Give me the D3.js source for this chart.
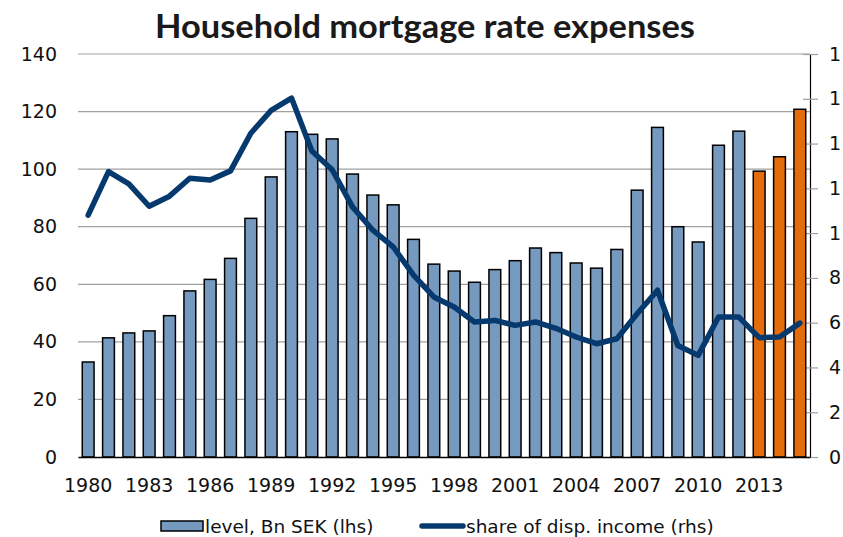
<!DOCTYPE html>
<html lang="en">
<head>
    <meta charset="UTF-8">
    <title>Household mortgage rate expenses</title>
    <script src="https://d3js.org/d3.v7.min.js"></script>
    <style>
        body { margin: 0; background: #fff; }
        svg { display: block; }
    </style>
</head>
<body>

<svg id="chart" width="843" height="537"></svg>
<script>

    // years on the category axis
    const years = d3.range(1980, 2016);

    // level, Bn SEK (left axis) - last three years are forecasts
    const level = [33.0, 41.4, 43.1, 43.8, 49.1, 57.7, 61.7, 69.0, 82.9, 97.3,
        113.0, 112.1, 110.5, 98.3, 91.0, 87.6, 75.6, 67.0, 64.6, 60.7,
        65.1, 68.2, 72.6, 71.0, 67.4, 65.6, 72.1, 92.7, 114.5, 80.0,
        74.7, 108.3, 113.2, 99.3, 104.3, 120.8];

    // share of disposable income, % (right axis)
    const share = [10.8, 12.75, 12.2, 11.2, 11.65, 12.45, 12.37, 12.78, 14.46, 15.48,
        16.03, 13.67, 12.83, 11.17, 10.13, 9.39, 8.12, 7.15, 6.70, 6.03,
        6.10, 5.88, 6.03, 5.75, 5.36, 5.06, 5.28, 6.40, 7.45, 4.98,
        4.54, 6.25, 6.25, 5.33, 5.36, 5.98];

    const forecastYears = [2013, 2014, 2015];
    const xTickYears = years.filter(y => (y - 1980) % 3 === 0);
    const leftTicks = [0, 20, 40, 60, 80, 100, 120, 140];
    const rightTicks = [0, 2, 4, 6, 8, 10, 12, 14, 16, 18];

    const titleText = "Household mortgage rate expenses";
    const legendLabels = ["level, Bn SEK (lhs)", "share of disp. income (rhs)"];

    const barColor = "#7699c0";
    const forecastColor = "#e46c0a";
    const lineColor = "#063a6e";
    const axisFont = "'DejaVu Sans', Verdana, sans-serif";

    function draw() {
        const svg = d3.select("#chart");
        const plotLeft = 78, plotRight = 810, plotTop = 54, plotBottom = 457;

        const x = d3.scaleBand()
            .domain(years)
            .range([plotLeft, plotRight])
            .paddingInner(0.42)
            .paddingOuter(0.21);

        const yL = d3.scaleLinear().domain([0, 140]).range([plotBottom, plotTop]);
        const yR = d3.scaleLinear().domain([0, 18]).range([plotBottom, plotTop]);

        // title, squeezed to the width of the original
        svg.append("text")
            .attr("x", 425)
            .attr("y", 38)
            .attr("text-anchor", "middle")
            .attr("textLength", 540)
            .attr("lengthAdjust", "spacingAndGlyphs")
            .style("font-family", "Lato, 'Open Sans', sans-serif")
            .style("font-weight", "bold")
            .style("font-size", "33px")
            .style("fill", "#1a1a1a")
            .text(titleText);

        // gridlines
        svg.append("g")
            .selectAll("line")
            .data(leftTicks.filter(d => d > 0))
            .enter()
            .append("line")
            .attr("x1", plotLeft)
            .attr("x2", plotRight)
            .attr("y1", d => yL(d))
            .attr("y2", d => yL(d))
            .attr("stroke", "#a0a0a0")
            .attr("stroke-width", 1.2);

        // left axis
        const gL = svg.append("g")
            .attr("transform", `translate(${plotLeft},0)`)
            .call(d3.axisLeft(yL).tickValues(leftTicks).tickSize(0).tickPadding(21));
        gL.select(".domain").remove();
        gL.selectAll("text")
            .style("font-family", axisFont)
            .style("font-size", "19px")
            .style("fill", "#111");

        // right axis - the original image is cropped at the right edge,
        // so only the first digit of each label is visible
        const gR = svg.append("g")
            .attr("transform", `translate(${plotRight},0)`)
            .call(d3.axisRight(yR).tickValues(rightTicks).tickSize(0).tickPadding(19)
                .tickFormat(d => String(d).charAt(0)));
        gR.select(".domain").attr("stroke", "#000").attr("stroke-width", 1.2);
        gR.selectAll(".tick line")
            .attr("x1", -7)
            .attr("x2", 8)
            .attr("stroke", "#a0a0a0")
            .attr("stroke-width", 1.2);
        gR.selectAll("text")
            .style("font-family", axisFont)
            .style("font-size", "19px")
            .style("fill", "#111");

        // bars
        svg.append("g")
            .selectAll("rect")
            .data(years)
            .enter()
            .append("rect")
            .attr("x", d => x(d))
            .attr("width", x.bandwidth())
            .attr("y", (d, i) => yL(level[i]))
            .attr("height", (d, i) => plotBottom - yL(level[i]))
            .attr("fill", d => forecastYears.includes(d) ? forecastColor : barColor)
            .attr("stroke", "#000")
            .attr("stroke-width", 1.5);

        // bottom axis
        const gX = svg.append("g")
            .attr("transform", `translate(0,${plotBottom})`)
            .call(d3.axisBottom(x).tickValues(xTickYears).tickSize(0));
        gX.select(".domain").attr("stroke", "#000").attr("stroke-width", 1.5);
        gX.selectAll("text")
            .attr("y", 35)
            .attr("dy", null)
            .style("font-family", axisFont)
            .style("font-size", "19px")
            .style("fill", "#111");

        // line
        const line = d3.line()
            .x((d, i) => x(years[i]) + x.bandwidth() / 2)
            .y(d => yR(d));

        svg.append("path")
            .datum(share)
            .attr("d", line)
            .attr("fill", "none")
            .attr("stroke", lineColor)
            .attr("stroke-width", 5.5)
            .attr("stroke-linejoin", "round")
            .attr("stroke-linecap", "round");

        // legend
        const legend = svg.append("g");
        legend.append("rect")
            .attr("x", 161).attr("y", 521)
            .attr("width", 42).attr("height", 10)
            .attr("fill", barColor)
            .attr("stroke", "#000")
            .attr("stroke-width", 1.5);
        legend.append("text")
            .attr("x", 205).attr("y", 533)
            .style("font-family", axisFont)
            .style("font-size", "18.5px")
            .style("fill", "#111")
            .text(legendLabels[0]);
        legend.append("line")
            .attr("x1", 422).attr("x2", 463)
            .attr("y1", 526).attr("y2", 526)
            .attr("stroke", lineColor)
            .attr("stroke-width", 5.5)
            .attr("stroke-linecap", "round");
        legend.append("text")
            .attr("x", 466).attr("y", 533)
            .style("font-family", axisFont)
            .style("font-size", "18.5px")
            .style("fill", "#111")
            .text(legendLabels[1]);
    }

    window.onload = draw;

</script>

</body>
</html>
